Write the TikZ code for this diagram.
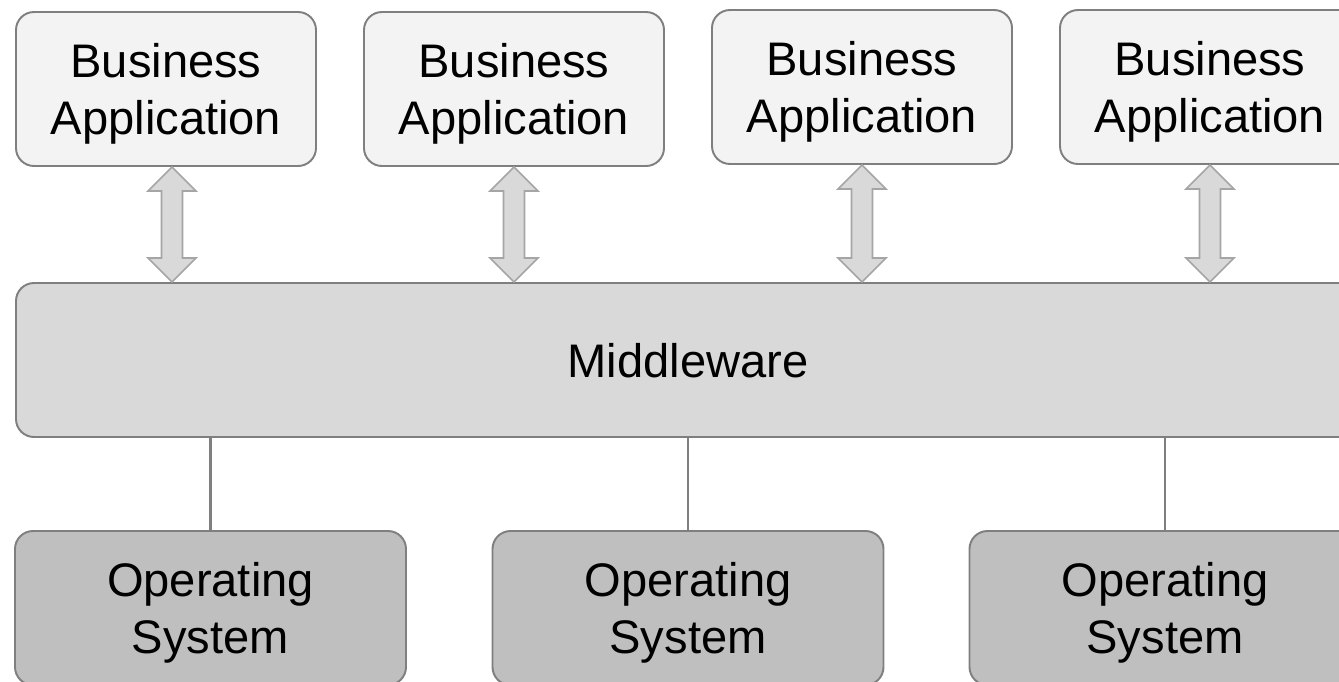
\documentclass[tikz,border=0pt]{standalone}
\usepackage{fontspec}
\setmainfont{Liberation Sans}
\usepackage{tikz}
\usetikzlibrary{positioning,calc}
\definecolor{appfill}{HTML}{F3F3F3}
\definecolor{midfill}{HTML}{D9D9D9}
\definecolor{osfill}{HTML}{BFBFBF}
\definecolor{edgegray}{HTML}{7F7F7F}
\definecolor{arrgray}{HTML}{A5A5A5}
\begin{document}
\begin{tikzpicture}[font=\fontsize{26.8}{32.6}\selectfont,
  box/.style={draw=edgegray, line width=1.1pt, rounded corners=0.36cm,
    align=center, minimum height=3.08cm, inner sep=0pt, text depth=0pt},
  app/.style={box, fill=appfill, minimum width=6cm},
  ossys/.style={box, fill=osfill, minimum width=7.82cm},
  dblarr/.style={draw=arrgray, fill=midfill, line width=0.9pt, line join=miter}]
\useasboundingbox (0,0) rectangle (26.78,-13.62);
\clip (0,0) rectangle (26.78,-13.62);
% Business applications on top
\node[app] (ba1) at (3.32,  -1.78) {Business\\Application};
\node[app] (ba2) at (10.28, -1.78) {Business\\Application};
\node[app] (ba3) at (17.24, -1.74) {Business\\Application};
\node[app] (ba4) at (24.20, -1.74) {Business\\Application};
% Middleware layer
\node[box, fill=midfill, minimum width=26.88cm] (mw) at (13.76, -7.20) {Middleware};
% Operating systems below
\node[ossys] (os1) at (4.21,  -12.16) {Operating\\System};
\node[ossys] (os2) at (13.76, -12.16) {Operating\\System};
\node[ossys] (os3) at (23.30, -12.16) {Operating\\System};
% Double arrows between applications and middleware
\foreach \b/\dx in {ba1/0.12,ba2/0,ba3/0,ba4/0}
  \draw[dblarr] ($(\b.south)+(\dx,0)$) -- ++(0.48,-0.48) -- ++(-0.27,0)
    -- ($(\b.south|-mw.north)+(\dx+0.21,0.48)$) -- ++(0.27,0)
    -- ($(\b.south|-mw.north)+(\dx,0)$) -- ++(-0.48,0.48) -- ++(0.27,0)
    -- ($(\b.south)+(\dx-0.21,-0.48)$) -- ++(-0.27,0) -- cycle;
% Links from middleware to operating systems
\foreach \o in {os1,os2,os3}
  \draw[edgegray, line width=1.2pt] (\o.north) -- (\o.north|-mw.south);
\end{tikzpicture}
\end{document}
